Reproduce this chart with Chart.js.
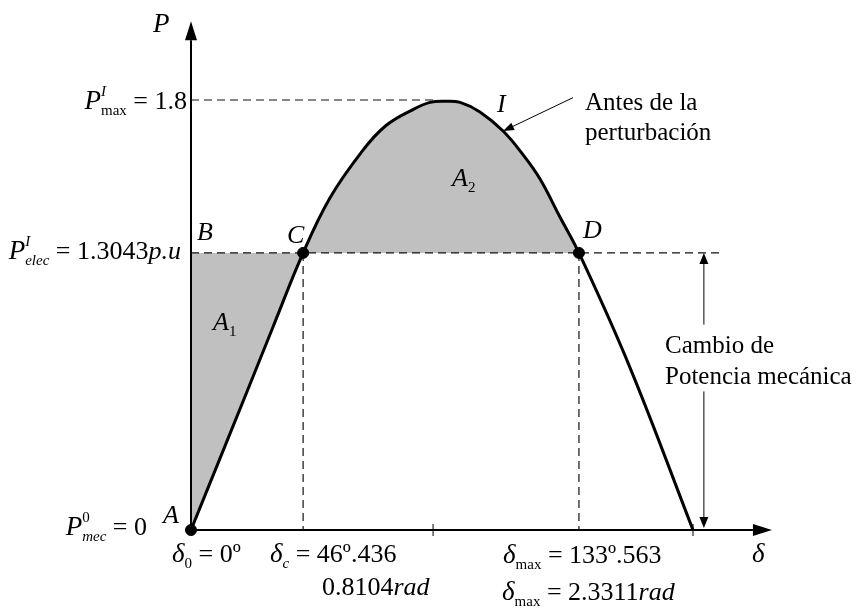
<!DOCTYPE html>
<html>
<head>
<meta charset="utf-8">
<script src="https://cdn.jsdelivr.net/npm/chart.js@4.4.1/dist/chart.umd.min.js"></script>
<style>
html, body { margin: 0; padding: 0; background: #fff; }
</style>
</head>
<body>
<canvas id="chart" width="862" height="608"></canvas>
<script>
// power-angle curve (x in sketch degrees, y in sketch p.u.)
const curveDelta = [0, 10.4, 20.1, 29.4, 40.2, 49.8, 61.0, 69.6, 79.6, 85.7, 91.1, 96.5, 103.6, 111.9, 119.1, 125.1, 132.3, 139.1, 157.4, 180];
const curveP = [0, 0.30, 0.58, 0.85, 1.16, 1.39, 1.58, 1.69, 1.76, 1.79, 1.795, 1.79, 1.75, 1.67, 1.57, 1.47, 1.31, 1.16, 0.68, 0];

const pMax = 1.8;
const pElec = 1.16;
const deltaC = 40.2;
const deltaD = 139.1;
const pMaxDashEnd = 87.5;
const pElecDashEnd = 190.4;
const axisEndDelta = 208.3;
const axisEndP = 2.13;
const tickDelta = [86.8, 180];
const changeArrowDelta = 183.9;
const changeArrowGap = [0.58, 0.86];
const pointerFrom = [137.0, 1.81];
const pointerToIdx = 13;

const grey = '#c0c0c0';
const none = 'rgba(0,0,0,0)';
const FONT = '"Liberation Serif", "Times New Roman", serif';

const curve = curveDelta.map((d, i) => ({ x: d, y: curveP[i] }));
const cIdx = curveDelta.indexOf(deltaC);

// text pieces: t text, i italic, s size, p -1 sub / 1 sup, st stacked on previous
const big = 27, mid = 26, sm = 15;
const labels = [
    { x: 153, y: 32, parts: [{ t: 'P', i: 1, s: big }] },
    { x: 187, y: 109, align: 'right', parts: [{ t: 'P', i: 1, s: big }, { t: 'I', i: 1, s: sm, p: 1 }, { t: 'max', s: sm, p: -1, st: 1 }, { t: ' = 1.8', s: mid }] },
    { x: 181, y: 259, align: 'right', parts: [{ t: 'P', i: 1, s: big }, { t: 'I', i: 1, s: sm, p: 1 }, { t: 'elec', i: 1, s: sm, p: -1, st: 1 }, { t: ' = 1.3043', s: mid }, { t: 'p.u', i: 1, s: mid }] },
    { x: 147, y: 535, align: 'right', parts: [{ t: 'P', i: 1, s: big }, { t: '0', s: sm, p: 1 }, { t: 'mec', i: 1, s: sm, p: -1, st: 1 }, { t: ' = 0', s: mid }] },
    { x: 163, y: 523, parts: [{ t: 'A', i: 1, s: mid }] },
    { x: 197, y: 240, parts: [{ t: 'B', i: 1, s: mid }] },
    { x: 287, y: 243, parts: [{ t: 'C', i: 1, s: mid }] },
    { x: 583, y: 238, parts: [{ t: 'D', i: 1, s: mid }] },
    { x: 213, y: 330, parts: [{ t: 'A', i: 1, s: mid }, { t: '1', s: sm, p: -1 }] },
    { x: 452, y: 186, parts: [{ t: 'A', i: 1, s: mid }, { t: '2', s: sm, p: -1 }] },
    { x: 497, y: 112, parts: [{ t: 'I', i: 1, s: mid }] },
    { x: 585, y: 110, parts: [{ t: 'Antes de la', s: 25 }] },
    { x: 585, y: 140, parts: [{ t: 'perturbación', s: 25 }] },
    { x: 665, y: 353, parts: [{ t: 'Cambio de', s: 25 }] },
    { x: 665, y: 384, parts: [{ t: 'Potencia mecánica', s: 25 }] },
    { x: 172, y: 562, parts: [{ t: 'δ', i: 1, s: big }, { t: '0', s: sm, p: -1 }, { t: ' = 0º', s: mid }] },
    { x: 270, y: 562, parts: [{ t: 'δ', i: 1, s: big }, { t: 'c', i: 1, s: sm, p: -1 }, { t: ' = 46º.436', s: mid }] },
    { x: 322, y: 595, parts: [{ t: '0.8104', s: mid }, { t: 'rad', i: 1, s: mid }] },
    { x: 503, y: 563, parts: [{ t: 'δ', i: 1, s: big }, { t: 'max', s: sm, p: -1 }, { t: ' = 133º.563', s: mid }] },
    { x: 502, y: 600, parts: [{ t: 'δ', i: 1, s: big }, { t: 'max', s: sm, p: -1 }, { t: ' = 2.3311', s: mid }, { t: 'rad', i: 1, s: mid }] },
    { x: 752, y: 562, parts: [{ t: 'δ', i: 1, s: big }] }
];

function setFont(ctx, p) {
    ctx.font = (p.i ? 'italic ' : '') + p.s + 'px ' + FONT;
}

function drawRich(ctx, lab) {
    let cx = 0, stackStart = 0;
    const segs = [];
    lab.parts.forEach(p => {
        setFont(ctx, p);
        const w = ctx.measureText(p.t).width;
        let sx;
        if (p.st) {
            sx = stackStart;
        } else {
            sx = cx;
            stackStart = cx;
        }
        segs.push({ p: p, sx: sx });
        cx = Math.max(cx, sx + w);
    });
    const x0 = lab.align === 'right' ? lab.x - cx : lab.x;
    ctx.fillStyle = '#000';
    ctx.textBaseline = 'alphabetic';
    ctx.textAlign = 'left';
    segs.forEach(sg => {
        setFont(ctx, sg.p);
        let dy = 0;
        if (sg.p.p === -1) dy = 6;
        if (sg.p.p === 1) dy = -13;
        ctx.fillText(sg.p.t, x0 + sg.sx, lab.y + dy);
    });
}

function arrow(ctx, x1, y1, x2, y2, len, half) {
    const a = Math.atan2(y2 - y1, x2 - x1);
    const bx = x2 - len * Math.cos(a), by = y2 - len * Math.sin(a);
    ctx.beginPath();
    ctx.moveTo(x1, y1);
    ctx.lineTo(bx, by);
    ctx.stroke();
    ctx.beginPath();
    ctx.moveTo(x2, y2);
    ctx.lineTo(bx + half * Math.sin(a), by - half * Math.cos(a));
    ctx.lineTo(bx - half * Math.sin(a), by + half * Math.cos(a));
    ctx.closePath();
    ctx.fill();
}

const sketchPlugin = {
    id: 'sketch',
    beforeDatasetsDraw(chart) {
        const ctx = chart.ctx, xs = chart.scales.x, ys = chart.scales.y;
        const x0 = xs.getPixelForValue(0), y0 = ys.getPixelForValue(0);
        ctx.save();
        ctx.strokeStyle = '#000';
        ctx.fillStyle = '#000';
        ctx.lineWidth = 2;
        arrow(ctx, x0, y0, xs.getPixelForValue(axisEndDelta), y0, 19, 6);
        arrow(ctx, x0, y0, x0, ys.getPixelForValue(axisEndP), 19, 6);
        ctx.lineWidth = 1;
        tickDelta.forEach(d => {
            const tx = xs.getPixelForValue(d);
            ctx.beginPath();
            ctx.moveTo(tx, y0 - 6);
            ctx.lineTo(tx, y0 + 6);
            ctx.stroke();
        });
        ctx.restore();
    },
    afterDraw(chart) {
        const ctx = chart.ctx, xs = chart.scales.x, ys = chart.scales.y;
        ctx.save();
        ctx.strokeStyle = '#000';
        ctx.fillStyle = '#000';
        ctx.lineWidth = 1;
        // pointer to the curve
        arrow(ctx, xs.getPixelForValue(pointerFrom[0]), ys.getPixelForValue(pointerFrom[1]),
            xs.getPixelForValue(curveDelta[pointerToIdx]), ys.getPixelForValue(curveP[pointerToIdx]), 11, 4);
        // change of mechanical power, double arrow split by its text
        const ax = xs.getPixelForValue(changeArrowDelta);
        arrow(ctx, ax, ys.getPixelForValue(changeArrowGap[1]), ax, ys.getPixelForValue(pElec), 11, 4.5);
        arrow(ctx, ax, ys.getPixelForValue(changeArrowGap[0]), ax, ys.getPixelForValue(0) - 2, 11, 4.5);
        labels.forEach(l => drawRich(ctx, l));
        ctx.restore();
    }
};

const dash = { borderColor: '#111', borderWidth: 1.2, borderDash: [8, 5], pointRadius: 0, fill: false, clip: false, order: 3 };

new Chart(document.getElementById('chart'), {
    type: 'line',
    data: {
        datasets: [
            {
                label: 'A1',
                data: curve.slice(0, cIdx + 1),
                borderWidth: 0,
                borderColor: none,
                pointRadius: 0,
                tension: 0,
                fill: { target: { value: pElec }, above: none, below: grey },
                clip: false,
                order: 5
            },
            {
                label: 'P',
                data: curve,
                borderColor: '#000',
                borderWidth: 3,
                pointRadius: 0,
                tension: 0.4,
                fill: { target: { value: pElec }, above: grey, below: none },
                clip: false,
                order: 1
            },
            Object.assign({ label: 'Pmax', data: [{ x: 0, y: pMax }, { x: pMaxDashEnd, y: pMax }] }, dash),
            Object.assign({ label: 'Pelec', data: [{ x: 0, y: pElec }, { x: pElecDashEnd, y: pElec }] }, dash),
            Object.assign({ label: 'dC', data: [{ x: deltaC, y: pElec }, { x: deltaC, y: 0 }] }, dash),
            Object.assign({ label: 'dD', data: [{ x: deltaD, y: pElec }, { x: deltaD, y: 0 }] }, dash),
            {
                label: 'pts',
                data: [{ x: 0, y: 0 }, { x: deltaC, y: pElec }, { x: deltaD, y: pElec }],
                showLine: false,
                pointRadius: 5.5,
                pointBackgroundColor: '#000',
                pointBorderColor: '#000',
                clip: false,
                order: 0
            }
        ]
    },
    options: {
        responsive: false,
        animation: false,
        devicePixelRatio: 1,
        layout: { padding: { left: 191, right: 169, top: 100, bottom: 78 } },
        scales: {
            x: { type: 'linear', min: 0, max: 180, display: false },
            y: { min: 0, max: 1.8, display: false }
        },
        plugins: {
            legend: { display: false },
            tooltip: { enabled: false },
            filler: { drawTime: 'beforeDatasetsDraw' }
        }
    },
    plugins: [sketchPlugin]
});
</script>
</body>
</html>
